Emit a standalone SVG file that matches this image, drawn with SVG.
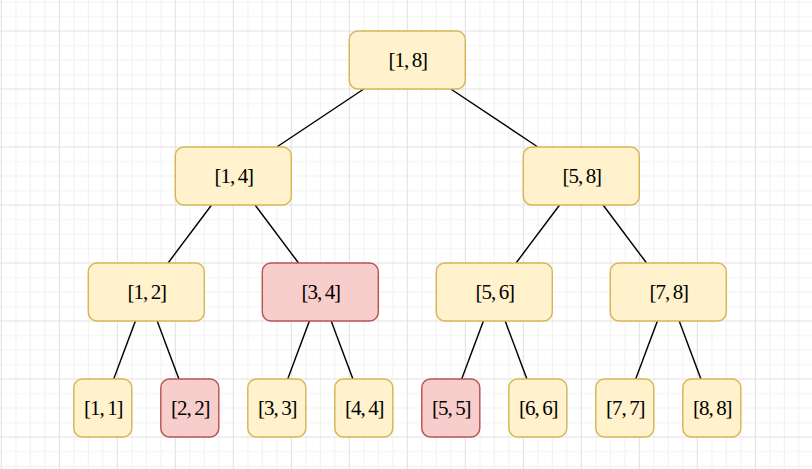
<svg xmlns="http://www.w3.org/2000/svg" width="812" height="469" viewBox="0 0 812 469">
  <style>
    .y { fill: #fff2cc; stroke: #d6b656; stroke-width: 1.45; }
    .r { fill: #f8cecc; stroke: #b85450; stroke-width: 1.45; }
    .t { font-family: "Liberation Serif", "Times New Roman", serif; font-size: 21px; text-anchor: middle; fill: #000; word-spacing: -0.5px; letter-spacing: -1.1px; }
    .e { stroke: #000; stroke-width: 1.45; fill: none; }
  </style>
  <defs>
    <pattern id="grid" patternUnits="userSpaceOnUse" x="0.8" y="30.5" width="58" height="58">
      <path d="M15 0V58M29.5 0V58M44 0V58M0 15H58M0 29.5H58M0 44H58" stroke="#f0f0f0" stroke-width="1" fill="none"/>
      <path d="M0.5 0V58M0 0.5H58" stroke="#e0e0e0" stroke-width="1" fill="none"/>
    </pattern>
  </defs>
  <rect width="812" height="469" fill="#ffffff"/>
  <rect width="812" height="469" fill="url(#grid)"/>

  <g id="connectors">
    <line class="e" x1="363.8" y1="89" x2="276.8" y2="147"/>
    <line class="e" x1="450.8" y1="89" x2="537.8" y2="147"/>
    <line class="e" x1="211.55" y1="205" x2="168.05" y2="263"/>
    <line class="e" x1="255.05" y1="205" x2="298.55" y2="263"/>
    <line class="e" x1="559.55" y1="205" x2="516.05" y2="263"/>
    <line class="e" x1="603.05" y1="205" x2="646.55" y2="263"/>
    <line class="e" x1="135.4" y1="321" x2="113.7" y2="379"/>
    <line class="e" x1="157.2" y1="321" x2="178.9" y2="379"/>
    <line class="e" x1="309.4" y1="321" x2="287.7" y2="379"/>
    <line class="e" x1="331.2" y1="321" x2="352.9" y2="379"/>
    <line class="e" x1="483.4" y1="321" x2="461.7" y2="379"/>
    <line class="e" x1="505.2" y1="321" x2="526.9" y2="379"/>
    <line class="e" x1="657.4" y1="321" x2="635.7" y2="379"/>
    <line class="e" x1="679.2" y1="321" x2="700.9" y2="379"/>
  </g>

  <g id="n18"><rect class="y" x="349.3" y="31" width="116" height="58" rx="8.7"/><text class="t" x="407.8" y="67">[1, 8]</text></g>
  <g id="n14"><rect class="y" x="175.3" y="147" width="116" height="58" rx="8.7"/><text class="t" x="233.8" y="183">[1, 4]</text></g>
  <g id="n58"><rect class="y" x="523.3" y="147" width="116" height="58" rx="8.7"/><text class="t" x="581.8" y="183">[5, 8]</text></g>
  <g id="n12"><rect class="y" x="88.3" y="263" width="116" height="58" rx="8.7"/><text class="t" x="146.8" y="299">[1, 2]</text></g>
  <g id="n34"><rect class="r" x="262.3" y="263" width="116" height="58" rx="8.7"/><text class="t" x="320.8" y="299">[3, 4]</text></g>
  <g id="n56"><rect class="y" x="436.3" y="263" width="116" height="58" rx="8.7"/><text class="t" x="494.8" y="299">[5, 6]</text></g>
  <g id="n78"><rect class="y" x="610.3" y="263" width="116" height="58" rx="8.7"/><text class="t" x="668.8" y="299">[7, 8]</text></g>
  <g id="n11"><rect class="y" x="73.8" y="379" width="58" height="58" rx="8.7"/><text class="t" x="103.3" y="415">[1, 1]</text></g>
  <g id="n22"><rect class="r" x="160.8" y="379" width="58" height="58" rx="8.7"/><text class="t" x="190.3" y="415">[2, 2]</text></g>
  <g id="n33"><rect class="y" x="247.8" y="379" width="58" height="58" rx="8.7"/><text class="t" x="277.3" y="415">[3, 3]</text></g>
  <g id="n44"><rect class="y" x="334.8" y="379" width="58" height="58" rx="8.7"/><text class="t" x="364.3" y="415">[4, 4]</text></g>
  <g id="n55"><rect class="r" x="421.8" y="379" width="58" height="58" rx="8.7"/><text class="t" x="451.3" y="415">[5, 5]</text></g>
  <g id="n66"><rect class="y" x="508.8" y="379" width="58" height="58" rx="8.7"/><text class="t" x="538.3" y="415">[6, 6]</text></g>
  <g id="n77"><rect class="y" x="595.8" y="379" width="58" height="58" rx="8.7"/><text class="t" x="625.3" y="415">[7, 7]</text></g>
  <g id="n88"><rect class="y" x="682.8" y="379" width="58" height="58" rx="8.7"/><text class="t" x="712.3" y="415">[8, 8]</text></g>
</svg>
